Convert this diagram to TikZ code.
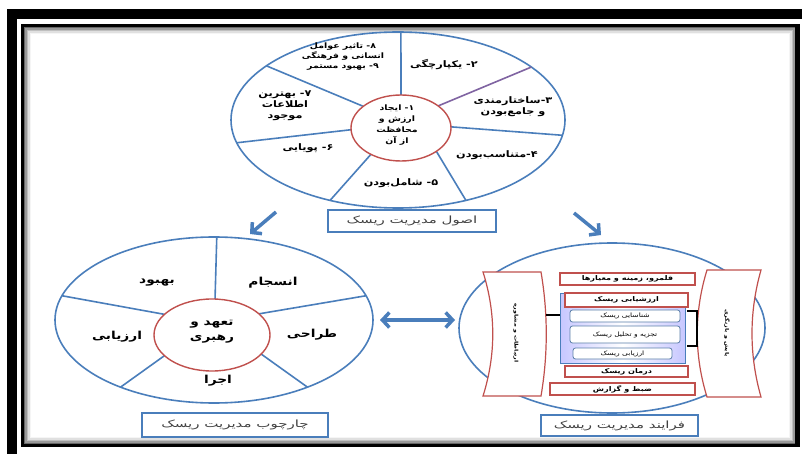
\documentclass[tikz,border=0pt]{standalone}
\usepackage{fontspec}
\usetikzlibrary{arrows.meta,shapes.geometric}
\TeXXeTstate=1
\newfontfamily\arabicfont[Script=Arabic,FakeStretch=1.25]{DejaVu Sans}
\newfontfamily\arabicwide[Script=Arabic,FakeStretch=1.5]{DejaVu Sans}
\newcommand\fa[1]{\beginR#1\endR}
\definecolor{fblue}{HTML}{4A7EBB}
\definecolor{fred}{HTML}{C0504D}
\definecolor{fpurple}{HTML}{8064A2}
\definecolor{ftext}{HTML}{404040}
\begin{document}
\begin{tikzpicture}[x=1pt,y=-1pt,
  pie/.style={draw=fblue,line width=1.6pt},
  hubring/.style={draw=fred,line width=1.4pt,fill=white},
  lbl/.style={font=\arabicfont\bfseries\fontsize{9}{11}\selectfont,align=center,inner sep=0pt},
  biglbl/.style={font=\arabicfont\bfseries\fontsize{11}{15}\selectfont,align=center,inner sep=0pt},
  capbox/.style={draw=fblue,line width=1.3pt,fill=white,inner sep=0pt,text=ftext,font=\arabicwide\fontsize{10}{11}\selectfont},
  redbox/.style={draw=fred,line width=1.1pt,fill=white,inner sep=0pt,font=\arabicfont\bfseries\fontsize{6.5}{7}\selectfont},
  subbox/.style={draw=fblue!70!gray,line width=0.8pt,fill=white,rounded corners=2.5pt,inner sep=0pt,font=\arabicfont\fontsize{6}{7}\selectfont},
  sidetext/.style={rotate=-90,inner sep=0pt,font=\arabicfont\bfseries\fontsize{5}{6}\selectfont},
  bigarrow/.style={draw=fblue,line width=3.5pt,-{Straight Barb[length=7pt,width=15pt]}}
]
\useasboundingbox (0,0) rectangle (802,454);
\fill[white] (0,0) rectangle (802,454);
% frame
\draw[black,line width=10pt] (12,14) rectangle (807,459);
\foreach \d/\g in {2/60,3.5/40,5/25,6.5/12,8/4}
  \draw[black!\g,line width=1.6pt] (22.5+\d,25.5+\d) rectangle (797.5-\d,445.5-\d);
\draw[black,line width=3pt] (22.5,25.5) rectangle (797.5,445.5);
\draw[black,line width=4.5pt] (797.5,24) -- (797.5,447);

% ===== top pie =====
\node[ellipse,pie,minimum width=334pt,minimum height=176pt,inner sep=0pt] (toppie) at (398,120) {};
\draw[pie] ([shift={(401,128)}]-90:50 and 33) -- ([shift={(398,120)}]-89:167 and 88);
\draw[pie,draw=fpurple] ([shift={(401,128)}]-42:50 and 33) -- ([shift={(398,120)}]-37:167 and 88);
\draw[pie] ([shift={(401,128)}]-2:50 and 33) -- ([shift={(398,120)}]10:167 and 88);
\draw[pie] ([shift={(401,128)}]45:50 and 33) -- ([shift={(398,120)}]66:167 and 88);
\draw[pie] ([shift={(401,128)}]127:50 and 33) -- ([shift={(398,120)}]114:167 and 88);
\draw[pie] ([shift={(401,128)}]177:50 and 33) -- ([shift={(398,120)}]165:167 and 88);
\draw[pie] ([shift={(401,128)}]221:50 and 33) -- ([shift={(398,120)}]218:167 and 88);
\node[ellipse,hubring,minimum width=100pt,minimum height=66pt,inner sep=0pt] (tophub) at (401,128) {};
\node[lbl,font=\arabicfont\bfseries\fontsize{7.5}{11}\selectfont] (t1) at (397,125) {\fa{۱- ایجاد}\\ \fa{ارزش و}\\ \fa{محافظت}\\ \fa{از آن}};
\node[lbl] (t2) at (444,65) {\fa{۲- یکپارچگی}};
\node[lbl] (t3) at (513,107) {\fa{۳-ساختارمندی}\\ \fa{و جامع‌بودن}};
\node[lbl] (t4) at (497,155) {\fa{۴-متناسب‌بودن}};
\node[lbl] (t5) at (401,183) {\fa{۵- شامل‌بودن}};
\node[lbl] (t6) at (308,148) {\fa{۶- پویایی}};
\node[lbl] (t7) at (285,106) {\fa{۷- بهترین}\\ \fa{اطلاعات}\\ \fa{موجود}};
\node[lbl,font=\arabicfont\bfseries\fontsize{7.5}{10}\selectfont] (t8) at (343,57) {\fa{۸- تاثیر عوامل}\\ \fa{انسانی و فرهنگی}\\ \fa{۹- بهبود مستمر}};
\node[capbox,minimum width=168pt,minimum height=22pt] (topcap) at (412,221) {\fa{اصول مدیریت ریسک}};

% arrows
\coordinate (a1s) at (276,212); \coordinate (a1e) at (250,234);
\coordinate (a2s) at (574,213); \coordinate (a2e) at (601,235);
\coordinate (a3s) at (380,320); \coordinate (a3e) at (455,320);
\draw[bigarrow] (a1s) -- (a1e);
\draw[bigarrow] (a2s) -- (a2e);
\draw[bigarrow,{Straight Barb[length=7pt,width=15pt]}-{Straight Barb[length=7pt,width=15pt]}] (a3s) -- (a3e);

% ===== left pie =====
\node[ellipse,pie,minimum width=318pt,minimum height=166pt,inner sep=0pt] (leftpie) at (214,320) {};
\draw[pie] ([shift={(212,335)}]-87:58 and 36) -- ([shift={(214,320)}]-89:159 and 83);
\draw[pie] ([shift={(212,335)}]-36:58 and 36) -- ([shift={(214,320)}]-17:159 and 83);
\draw[pie] ([shift={(212,335)}]32:58 and 36) -- ([shift={(214,320)}]54:159 and 83);
\draw[pie] ([shift={(212,335)}]145:58 and 36) -- ([shift={(214,320)}]126:159 and 83);
\draw[pie] ([shift={(212,335)}]215:58 and 36) -- ([shift={(214,320)}]197:159 and 83);
\node[ellipse,hubring,minimum width=116pt,minimum height=72pt,inner sep=0pt] (lefthub) at (212,335) {};
\node[biglbl] (l0) at (212,332) {\fa{تعهد و}\\ \fa{رهبری}};
\node[biglbl] (l1) at (157,283) {\fa{بهبود}};
\node[biglbl] (l2) at (273,283) {\fa{انسجام}};
\node[biglbl] (l3) at (312,335) {\fa{طراحی}};
\node[biglbl] (l4) at (117,337) {\fa{ارزیابی}};
\node[biglbl] (l5) at (218,381) {\fa{اجرا}};
\node[capbox,minimum width=186pt,minimum height=24pt] (leftcap) at (235,425) {\fa{چارچوب مدیریت ریسک}};

% ===== right process =====
\node[ellipse,pie,minimum width=306pt,minimum height=170pt,inner sep=0pt] (rightpie) at (612,328) {};
\draw[fred,line width=1.2pt,fill=white] (483,272) -- (541,272) .. controls (548,313) and (548,355) .. (541,396) -- (483,396) .. controls (496,355) and (496,313) .. (483,272) -- cycle;
\draw[fred,line width=1.2pt,fill=white] (707,270) -- (761,270) .. controls (749,312) and (749,355) .. (761,397) -- (707,397) .. controls (694,355) and (694,312) .. (707,270) -- cycle;
\node[sidetext] (comm) at (516,333) {\fa{ارتباطات و مشاوره}};
\node[sidetext] (monit) at (727,333) {\fa{پایش و بازنگری}};
\node[draw=fblue,line width=1pt,left color=blue!22!white,right color=blue!22!white,middle color=white,minimum width=125pt,minimum height=70pt,inner sep=0pt] (panel) at (622.5,328) {};
\node[redbox,minimum width=135pt,minimum height=12pt] (r1) at (627.5,279) {\fa{قلمرو، زمینه و معیارها}};
\node[redbox,minimum width=123pt,minimum height=14pt] (r2) at (626.5,300) {\fa{ارزشیابی ریسک}};
\node[subbox,minimum width=110pt,minimum height=12pt] (s1) at (625,316) {\fa{شناسایی ریسک}};
\node[subbox,minimum width=110pt,minimum height=17pt] (s2) at (625,334.5) {\fa{تجزیه و تحلیل ریسک}};
\node[subbox,minimum width=99pt,minimum height=11pt] (s3) at (622.5,353.5) {\fa{ارزیابی ریسک}};
\node[redbox,minimum width=123pt,minimum height=11pt] (r3) at (626.5,371.5) {\fa{درمان ریسک}};
\node[redbox,minimum width=145pt,minimum height=12pt] (r4) at (622.5,389) {\fa{ضبط و گزارش}};
\coordinate (cl) at (546,315);
\draw[black,line width=2pt] (cl) -- (panel.west |- cl);
\draw[black,line width=2pt] (687,311) -- (697,311) -- (697,346) -- (687,346);
\node[capbox,minimum width=157pt,minimum height=21pt] (rightcap) at (619.5,425.5) {\fa{فرایند مدیریت ریسک}};
\end{tikzpicture}
\end{document}
